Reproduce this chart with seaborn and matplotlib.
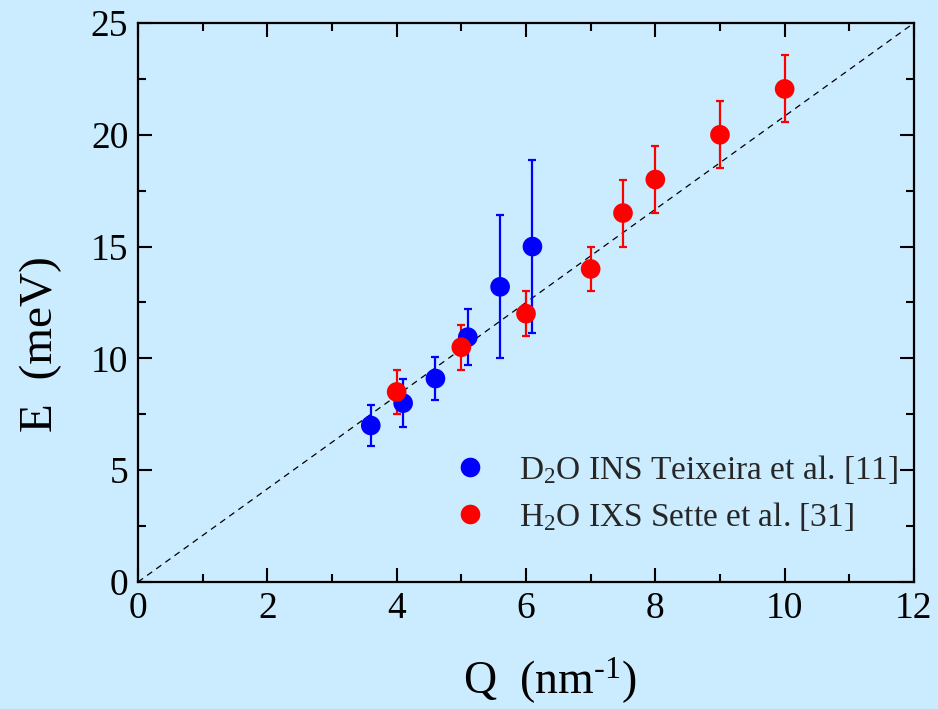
import matplotlib
matplotlib.use("Agg")
import matplotlib.pyplot as plt
import seaborn as sns
import pandas as pd
import numpy as np
from matplotlib.ticker import MultipleLocator

# Data
q_d2o = [3.6, 4.1, 4.6, 5.1, 5.6, 6.1]
e_d2o = [7.0, 8.0, 9.1, 10.95, 13.2, 15.0]
err_d2o = [0.9, 1.07, 0.97, 1.25, 3.2, 3.85]

q_h2o = [4.0, 5.0, 6.0, 7.0, 7.5, 8.0, 9.0, 10.0]
e_h2o = [8.5, 10.5, 12.0, 14.0, 16.5, 18.0, 20.0, 22.05]
err_h2o = [1.0, 1.0, 1.0, 1.0, 1.5, 1.5, 1.5, 1.5]

label_d2o = "D$_{\\mathregular{2}}$O INS Teixeira et al. [11]"
label_h2o = "H$_{\\mathregular{2}}$O IXS Sette et al. [31]"

line_q = [0, 12]
line_e = [0, 25]

bg = "#cbebff"

sns.set_theme(style="ticks")
plt.rcParams["font.family"] = ["Liberation Serif", "DejaVu Serif"]
plt.rcParams["mathtext.fontset"] = "custom"
plt.rcParams["mathtext.rm"] = "Liberation Serif"
plt.rcParams["mathtext.it"] = "Liberation Serif:italic"

df = pd.DataFrame({
    "Q": q_d2o + q_h2o,
    "E": e_d2o + e_h2o,
    "set": [label_d2o] * len(q_d2o) + [label_h2o] * len(q_h2o),
})

fig = plt.figure(figsize=(9.38, 7.09), dpi=100, facecolor=bg)
ax = fig.add_axes([0.1471, 0.1791, 0.8273, 0.7885])
ax.set_facecolor(bg)

sns.lineplot(x=line_q, y=line_e, ax=ax, color="black", lw=0.9,
             linestyle=(0, (5, 4)), legend=False)

ax.errorbar(q_d2o, e_d2o, yerr=err_d2o, fmt="none", ecolor="#0000ff",
            elinewidth=1.6, capsize=3, capthick=1.6, zorder=2)
ax.errorbar(q_h2o, e_h2o, yerr=err_h2o, fmt="none", ecolor="#ff0000",
            elinewidth=1.6, capsize=3, capthick=1.6, zorder=2)

sns.scatterplot(data=df, x="Q", y="E", hue="set",
                palette={label_d2o: "#0000ff", label_h2o: "#ff0000"},
                s=200, edgecolor="none", linewidth=0, ax=ax, zorder=3)

ax.set_xlim(0, 12)
ax.set_ylim(0, 25)
ax.xaxis.set_major_locator(MultipleLocator(2))
ax.xaxis.set_minor_locator(MultipleLocator(1))
ax.yaxis.set_major_locator(MultipleLocator(5))
ax.yaxis.set_minor_locator(MultipleLocator(2.5))
ax.tick_params(which="both", direction="in", top=True, right=True,
               width=1.5, color="black", labelsize=27, labelcolor="black")
ax.tick_params(which="major", length=10, pad=7)
ax.tick_params(which="minor", length=6)
for s in ax.spines.values():
    s.set_linewidth(1.6)
    s.set_color("black")
    s.set_visible(True)

ax.set_xlabel("Q  (nm$^{\\text{-1}}$)", fontsize=33, color="black")
ax.set_ylabel("E  (meV)", fontsize=34, color="black")
ax.xaxis.set_label_coords(0.531, -0.132)
ax.yaxis.set_label_coords(-0.098, 0.425)

leg = ax.legend(loc="upper left", bbox_to_anchor=(0.368, 0.255), frameon=False,
                fontsize=24, handletextpad=0.45, labelspacing=0.42,
                markerscale=1.0, borderaxespad=0)

fig.savefig("out.png", dpi=100, facecolor=bg)
